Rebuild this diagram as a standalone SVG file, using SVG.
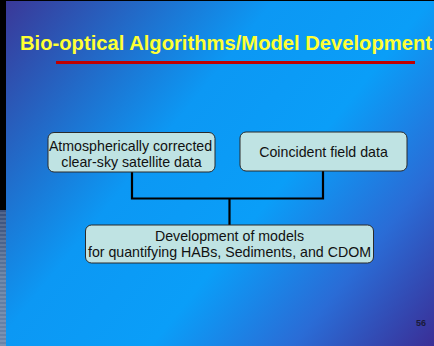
<svg xmlns="http://www.w3.org/2000/svg" width="434" height="346" viewBox="0 0 434 346">
  <defs>
    <linearGradient id="bg" gradientUnits="userSpaceOnUse" x1="6" y1="0" x2="434" y2="346">
      <stop offset="0" stop-color="#3a3898"/>
      <stop offset="0.38" stop-color="#0c98f4"/>
      <stop offset="0.6" stop-color="#0a9ef8"/>
      <stop offset="0.8" stop-color="#2a6cd6"/>
      <stop offset="1" stop-color="#3a2e96"/>
    </linearGradient>
    <linearGradient id="strip" x1="0" y1="0" x2="0" y2="1">
      <stop offset="0" stop-color="#3a4f7a"/>
      <stop offset="0.5" stop-color="#5f7a9e"/>
      <stop offset="1" stop-color="#6a84a8"/>
    </linearGradient>
    <pattern id="stripes" width="6" height="4" patternUnits="userSpaceOnUse">
      <rect width="6" height="2" fill="#ffffff" opacity="0.12"/>
    </pattern>
  </defs>
  <style>
    .box { fill: #bfe3e3; stroke: #2a2a2a; stroke-width: 1; }
    .lbl { font-family: "Liberation Sans", Arial, sans-serif; font-size: 14.2px; fill: #111; text-anchor: middle; }
    .wire { fill: none; stroke: #000; stroke-width: 2.2; }
  </style>

  <!-- slide background -->
  <rect x="0" y="0" width="434" height="346" fill="#000"/>
  <rect x="6" y="1" width="428" height="345" fill="url(#bg)"/>
  <rect x="0" y="210" width="6" height="136" fill="url(#strip)"/>
  <rect x="0" y="210" width="6" height="136" fill="url(#stripes)"/>

  <!-- title -->
  <text x="20" y="50" font-family="'Liberation Sans', Arial, sans-serif" font-weight="bold" font-size="20.2" fill="#ffff33">Bio-optical Algorithms/Model Development</text>
  <rect x="56" y="61" width="359" height="3" fill="#c00000"/>

  <!-- connectors -->
  <g id="connectors">
    <polyline class="wire" points="132,172 132,198.5 323,198.5 323,171"/>
    <line class="wire" x1="229.5" y1="198.5" x2="229.5" y2="225"/>
  </g>

  <g id="node-satellite">
    <rect class="box" x="48" y="132.5" width="167" height="39.5" rx="6"/>
    <text class="lbl" x="130.5" y="151">Atmospherically corrected</text>
    <text class="lbl" x="131.5" y="167">clear-sky satellite data</text>
  </g>

  <g id="node-field">
    <rect class="box" x="240" y="132" width="167" height="39" rx="6"/>
    <text class="lbl" x="323.5" y="157">Coincident field data</text>
  </g>

  <g id="node-models">
    <rect class="box" x="85.5" y="225" width="288" height="38" rx="6"/>
    <text class="lbl" x="229.5" y="240.5">Development of models</text>
    <text class="lbl" x="229.5" y="257">for quantifying HABs, Sediments, and CDOM</text>
  </g>

  <!-- slide number -->
  <text x="421" y="326" font-family="'Liberation Sans', Arial, sans-serif" font-size="9" font-weight="bold" fill="#1a1a3a" text-anchor="middle">56</text>
</svg>
